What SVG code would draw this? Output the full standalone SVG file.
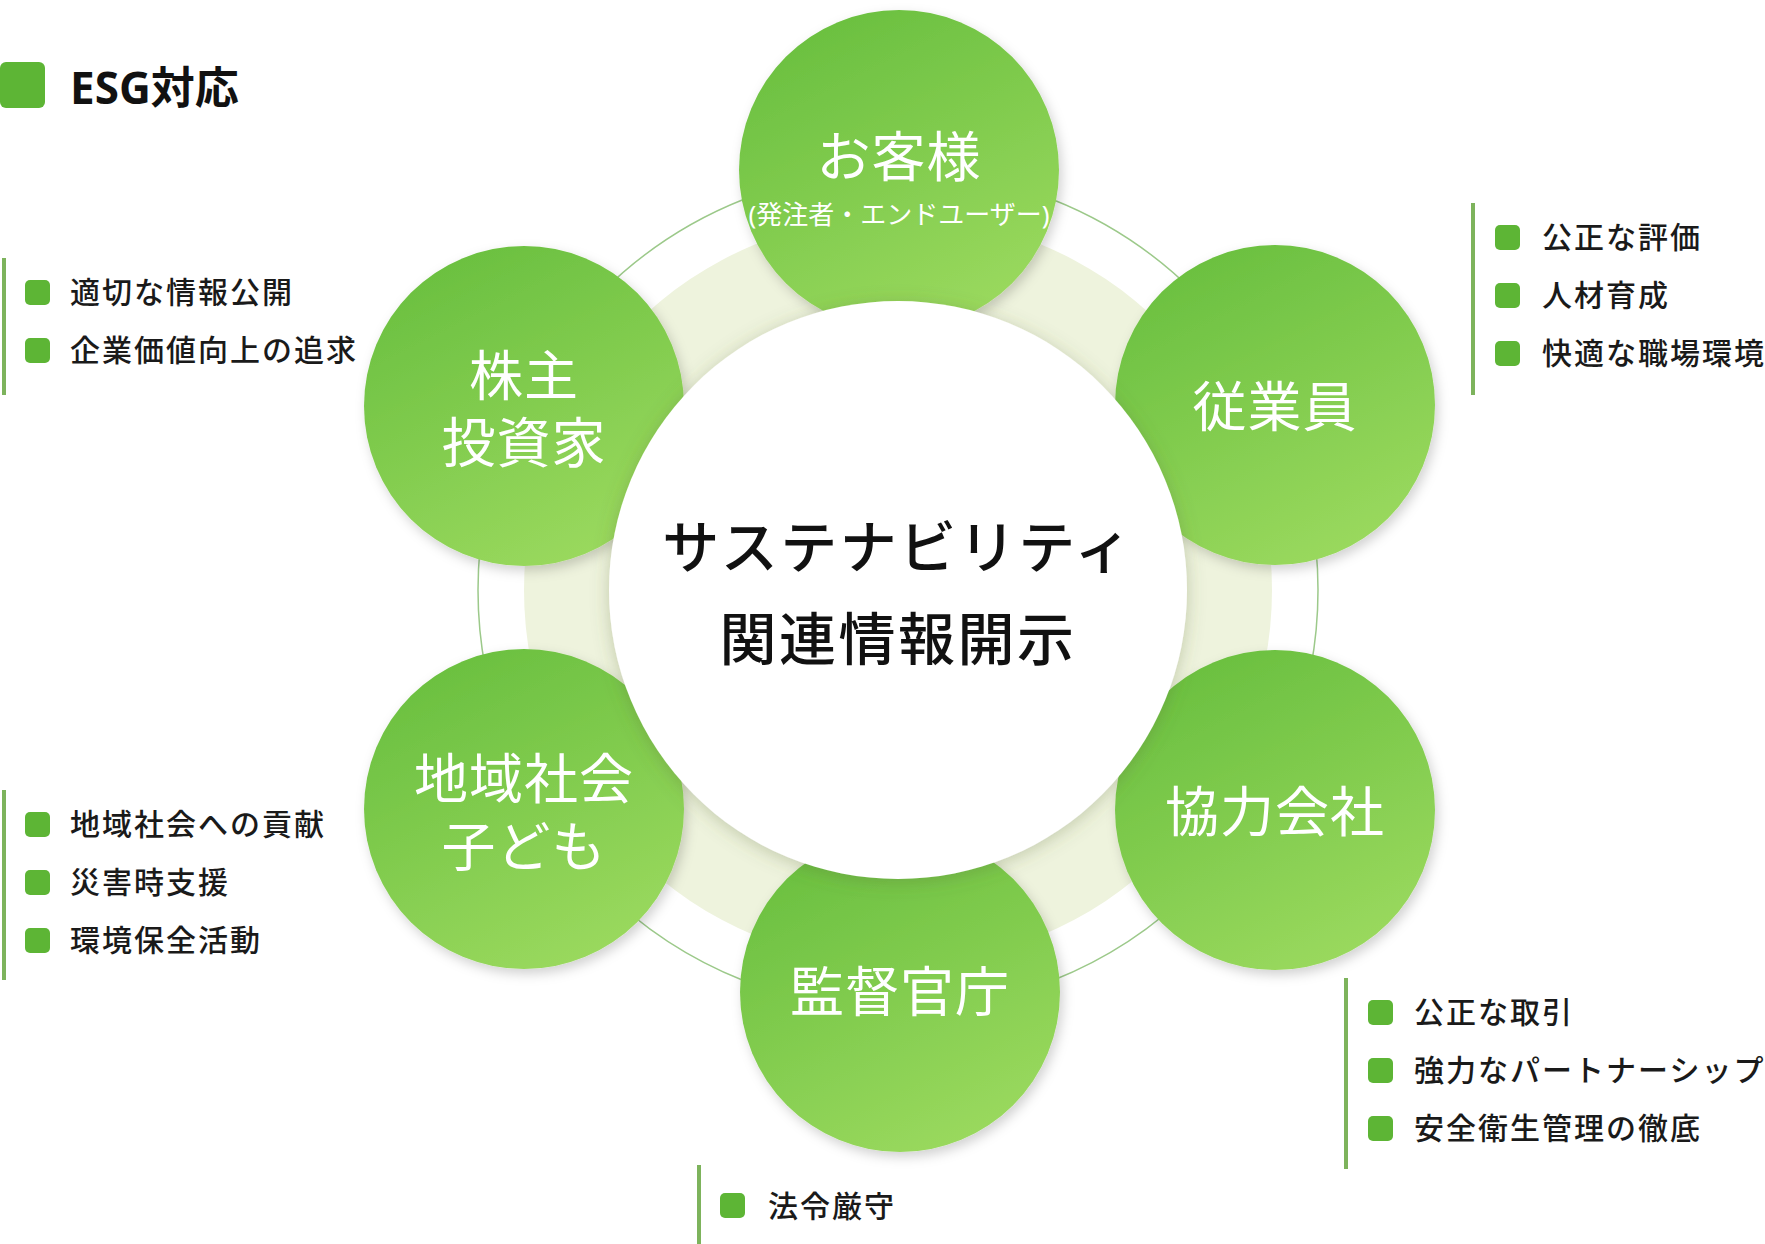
<svg xmlns="http://www.w3.org/2000/svg" width="1765" height="1244" viewBox="0 0 1765 1244">
  <defs>
    <style>
      text { font-family: "Noto Sans", "Noto Sans CJK JP", sans-serif; }
      .node-label { fill: #ffffff; font-size: 54px; font-weight: 400; text-anchor: middle; letter-spacing: 1px; }
      .node-sub { fill: #ffffff; font-size: 26px; font-weight: 400; text-anchor: middle; }
      .center-label { fill: #111111; font-size: 57px; font-weight: 500; text-anchor: middle; letter-spacing: 2.5px; }
      .item { fill: #1a1a1a; font-size: 30px; font-weight: 500; letter-spacing: 2px; }
      .bullet { fill: #5db535; }
      .bar { fill: #7db35c; }
      .node-circle { fill: url(#nodeGrad); filter: url(#nodeShadow); }
    </style>
    <linearGradient id="nodeGrad" x1="0.25" y1="0" x2="0.75" y2="1">
      <stop offset="0" stop-color="#69bf3f"/>
      <stop offset="1" stop-color="#9cda5f"/>
    </linearGradient>
    <filter id="nodeShadow" x="-20%" y="-20%" width="140%" height="140%">
      <feDropShadow dx="3" dy="5" stdDeviation="6" flood-color="#000000" flood-opacity="0.18"/>
    </filter>
    <filter id="centerShadow" x="-20%" y="-20%" width="140%" height="140%">
      <feDropShadow dx="0" dy="3" stdDeviation="9" flood-color="#5a6a3a" flood-opacity="0.3"/>
    </filter>
  </defs>

  <rect x="0" y="0" width="1765" height="1244" fill="#ffffff"/>

  <!-- legend -->
  <g id="legend">
    <rect x="0" y="62" width="45" height="46" rx="6" class="bullet"/>
    <text x="70" y="104" style="font-size:44px;font-weight:700;fill:#111111;">ESG対応</text>
  </g>

  <!-- connectors: ring band and thin orbit line -->
  <g id="connectors">
    <circle cx="898" cy="590" r="374" fill="#eef3dd"/>
    <circle cx="898" cy="590" r="420" fill="none" stroke="#9cc98a" stroke-width="1.5"/>
  </g>

  <!-- outer nodes -->
  <g id="node-customer">
    <circle cx="899" cy="170" r="160" class="node-circle"/>
    <text x="899" y="177" class="node-label">お客様</text>
    <text x="899" y="224" class="node-sub">(発注者・エンドユーザー)</text>
  </g>
  <g id="node-employee">
    <circle cx="1275" cy="405" r="160" class="node-circle"/>
    <text x="1275" y="427" class="node-label">従業員</text>
  </g>
  <g id="node-partner">
    <circle cx="1275" cy="810" r="160" class="node-circle"/>
    <text x="1275" y="832" class="node-label">協力会社</text>
  </g>
  <g id="node-regulator">
    <circle cx="900" cy="992" r="160" class="node-circle"/>
    <text x="900" y="1012" class="node-label">監督官庁</text>
  </g>
  <g id="node-community">
    <circle cx="524" cy="809" r="160" class="node-circle"/>
    <text x="524" y="799" class="node-label">地域社会</text>
    <text x="524" y="867" class="node-label">子ども</text>
  </g>
  <g id="node-shareholder">
    <circle cx="524" cy="406" r="160" class="node-circle"/>
    <text x="524" y="396" class="node-label">株主</text>
    <text x="524" y="463" class="node-label">投資家</text>
  </g>

  <!-- center node -->
  <g id="node-center">
    <circle cx="898" cy="590" r="289" fill="#ffffff" filter="url(#centerShadow)"/>
    <text x="898" y="568" class="center-label">サステナビリティ</text>
    <text x="898" y="660" class="center-label">関連情報開示</text>
  </g>

  <!-- lists -->
  <g id="list-shareholder">
    <rect x="2" y="258" width="4" height="137" class="bar"/>
    <rect x="25" y="280" width="25" height="25" rx="5" class="bullet"/>
    <text x="70" y="303" class="item">適切な情報公開</text>
    <rect x="25" y="338" width="25" height="25" rx="5" class="bullet"/>
    <text x="70" y="361" class="item">企業価値向上の追求</text>
  </g>
  <g id="list-employee">
    <rect x="1471" y="203" width="4" height="192" class="bar"/>
    <rect x="1495" y="225" width="25" height="25" rx="5" class="bullet"/>
    <text x="1542" y="248" class="item">公正な評価</text>
    <rect x="1495" y="283" width="25" height="25" rx="5" class="bullet"/>
    <text x="1542" y="306" class="item">人材育成</text>
    <rect x="1495" y="341" width="25" height="25" rx="5" class="bullet"/>
    <text x="1542" y="364" class="item">快適な職場環境</text>
  </g>
  <g id="list-community">
    <rect x="2" y="790" width="4" height="190" class="bar"/>
    <rect x="25" y="812" width="25" height="25" rx="5" class="bullet"/>
    <text x="70" y="835" class="item">地域社会への貢献</text>
    <rect x="25" y="870" width="25" height="25" rx="5" class="bullet"/>
    <text x="70" y="893" class="item">災害時支援</text>
    <rect x="25" y="928" width="25" height="25" rx="5" class="bullet"/>
    <text x="70" y="951" class="item">環境保全活動</text>
  </g>
  <g id="list-partner">
    <rect x="1344" y="978" width="4" height="191" class="bar"/>
    <rect x="1368" y="1000" width="25" height="25" rx="5" class="bullet"/>
    <text x="1414" y="1023" class="item">公正な取引</text>
    <rect x="1368" y="1058" width="25" height="25" rx="5" class="bullet"/>
    <text x="1414" y="1081" class="item">強力なパートナーシップ</text>
    <rect x="1368" y="1116" width="25" height="25" rx="5" class="bullet"/>
    <text x="1414" y="1139" class="item">安全衛生管理の徹底</text>
  </g>
  <g id="list-regulator">
    <rect x="697" y="1165" width="4" height="79" class="bar"/>
    <rect x="720" y="1193" width="25" height="25" rx="5" class="bullet"/>
    <text x="768" y="1217" class="item">法令厳守</text>
  </g>
</svg>
